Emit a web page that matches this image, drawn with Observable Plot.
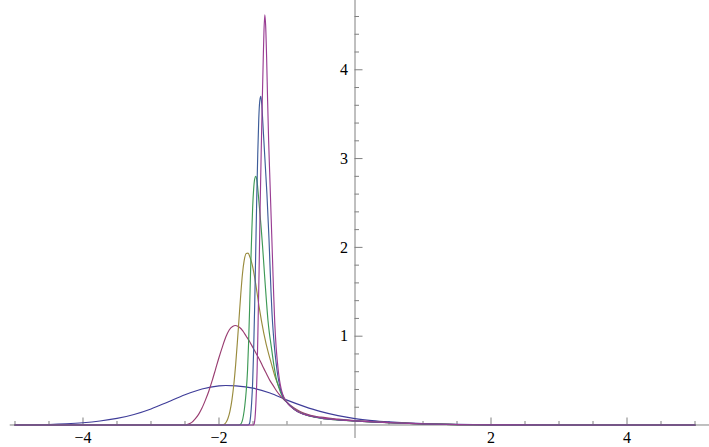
<!DOCTYPE html>
<html>
<head>
<meta charset="utf-8">
<script src="https://cdn.jsdelivr.net/npm/d3@7"></script>
<script src="https://cdn.jsdelivr.net/npm/@observablehq/plot@0.6"></script>
<style>
  html, body { margin: 0; padding: 0; background: #ffffff; }
  #chart svg { display: block; }
</style>
</head>
<body>
<div id="chart"></div>
<script>
// ---- data ----
const seriesNames = ["s1", "s2", "s3", "s4", "s5", "s6"];
const seriesColors = ["#3f3d99", "#993d71", "#998b3d", "#3d9955", "#3d5c99", "#993d93"];

const s1x = [-5.0, -4.75, -4.5, -4.25, -4.0, -3.75, -3.5, -3.25, -3.0, -2.75, -2.5, -2.25, -2.0, -1.9, -1.75, -1.5, -1.25, -1.0, -0.75, -0.5, -0.25, 0, 0.25, 0.5, 0.75, 1.0, 1.5, 2.0, 2.5, 3.0, 4.0, 5.0];
const s1y = [0.001, 0.003, 0.006, 0.013, 0.025, 0.045, 0.075, 0.118, 0.18, 0.26, 0.34, 0.405, 0.44, 0.445, 0.44, 0.415, 0.36, 0.28, 0.21, 0.15, 0.105, 0.072, 0.05, 0.035, 0.024, 0.016, 0.007, 0.003, 0.001, 0.0005, 0, 0];

const s2x = [-5.0, -2.5, -2.45, -2.4, -2.35, -2.3, -2.25, -2.2, -2.15, -2.1, -2.05, -2.0, -1.95, -1.9, -1.85, -1.8, -1.757, -1.7, -1.65, -1.6, -1.55, -1.5, -1.45, -1.4, -1.35, -1.3, -1.25, -1.2, -1.15, -1.1, -1.05, -1.0, -0.9, -0.8, -0.7, -0.6, -0.5, -0.25, 0, 0.5, 1.0, 1.5, 2.0, 3.0, 5.0];
const s2y = [0, 0, 0.01, 0.03, 0.07, 0.12, 0.19, 0.28, 0.38, 0.5, 0.63, 0.76, 0.88, 0.99, 1.07, 1.11, 1.12, 1.1, 1.06, 1.0, 0.94, 0.87, 0.8, 0.73, 0.65, 0.575, 0.5, 0.44, 0.38, 0.33, 0.29, 0.255, 0.195, 0.15, 0.12, 0.1, 0.088, 0.067, 0.05, 0.028, 0.013, 0.005, 0.0015, 0, 0];

const s3x = [-5.0, -1.96, -1.93, -1.9, -1.87, -1.84, -1.81, -1.78, -1.755, -1.73, -1.705, -1.68, -1.655, -1.63, -1.6, -1.573, -1.545, -1.51, -1.46, -1.41, -1.34, -1.27, -1.24, -1.17, -1.095, -1.04, -1.0, -0.95, -0.9, -0.8, -0.7, -0.5, -0.25, 0, 0.5, 1.0, 1.5, 2.0, 3.0, 5.0];
const s3y = [0, 0, 0.005, 0.025, 0.07, 0.15, 0.28, 0.47, 0.68, 0.93, 1.2, 1.47, 1.7, 1.85, 1.93, 1.935, 1.89, 1.8, 1.59, 1.33, 1.03, 0.8, 0.72, 0.53, 0.39, 0.3, 0.255, 0.215, 0.185, 0.14, 0.11, 0.078, 0.058, 0.046, 0.025, 0.012, 0.005, 0.0015, 0, 0];

const s4x = [-5.0, -1.71, -1.68, -1.66, -1.64, -1.62, -1.6, -1.58, -1.565, -1.55, -1.535, -1.52, -1.505, -1.49, -1.475, -1.459, -1.44, -1.42, -1.4, -1.38, -1.36, -1.34, -1.32, -1.3, -1.28, -1.26, -1.24, -1.22, -1.19, -1.16, -1.12, -1.08, -1.04, -1.0, -0.95, -0.9, -0.8, -0.7, -0.5, -0.25, 0, 0.5, 1.0, 1.5, 2.0, 3.0, 5.0];
const s4y = [0, 0, 0.01, 0.04, 0.11, 0.22, 0.38, 0.62, 0.92, 1.3, 1.75, 2.12, 2.45, 2.66, 2.77, 2.8, 2.74, 2.58, 2.4, 2.22, 2.02, 1.8, 1.58, 1.37, 1.18, 1.04, 0.93, 0.82, 0.66, 0.53, 0.42, 0.34, 0.29, 0.255, 0.215, 0.18, 0.135, 0.108, 0.077, 0.057, 0.045, 0.025, 0.012, 0.005, 0.0015, 0, 0];

const s5x = [-5.0, -1.57, -1.55, -1.535, -1.52, -1.505, -1.49, -1.475, -1.46, -1.445, -1.43, -1.415, -1.4, -1.385, -1.37, -1.355, -1.34, -1.325, -1.31, -1.295, -1.28, -1.265, -1.25, -1.235, -1.22, -1.2, -1.18, -1.16, -1.14, -1.12, -1.09, -1.06, -1.0, -0.95, -0.9, -0.8, -0.7, -0.5, -0.25, 0, 0.5, 1.0, 1.5, 2.0, 3.0, 5.0];
const s5y = [0, 0, 0.02, 0.1, 0.25, 0.48, 0.85, 1.35, 1.95, 2.55, 3.05, 3.45, 3.65, 3.7, 3.6, 3.4, 3.2, 3.0, 2.8, 2.6, 2.35, 2.1, 1.8, 1.5, 1.25, 1.02, 0.84, 0.7, 0.58, 0.49, 0.39, 0.32, 0.255, 0.215, 0.18, 0.135, 0.11, 0.078, 0.058, 0.046, 0.025, 0.012, 0.005, 0.0015, 0, 0];

const s6x = [-5.0, -1.5, -1.485, -1.47, -1.455, -1.44, -1.425, -1.41, -1.395, -1.38, -1.365, -1.35, -1.338, -1.326, -1.314, -1.3, -1.285, -1.27, -1.255, -1.24, -1.225, -1.21, -1.195, -1.18, -1.16, -1.14, -1.12, -1.1, -1.07, -1.04, -1.0, -0.95, -0.9, -0.8, -0.7, -0.5, -0.25, 0, 0.5, 1.0, 1.5, 2.0, 3.0, 5.0];
const s6y = [0, 0, 0.01, 0.08, 0.28, 0.6, 1.15, 1.75, 2.45, 3.05, 3.6, 4.1, 4.45, 4.62, 4.5, 4.15, 3.65, 3.2, 2.85, 2.5, 2.15, 1.8, 1.45, 1.15, 0.88, 0.7, 0.56, 0.46, 0.36, 0.3, 0.255, 0.21, 0.18, 0.135, 0.11, 0.08, 0.06, 0.047, 0.026, 0.012, 0.005, 0.0015, 0, 0];

const xMajorTicks = [-4, -2, 2, 4];
const xMajorLabels = ["\u22124", "\u22122", "2", "4"];
const xMinorTicks = [-5, -4.5, -3.5, -3, -2.5, -1.5, -1, -0.5, 0.5, 1, 1.5, 2.5, 3, 3.5, 4.5, 5];
const yMajorTicks = [1, 2, 3, 4];
const yMajorLabels = ["1", "2", "3", "4"];
const yMinorTicks = [0.2, 0.4, 0.6, 0.8, 1.2, 1.4, 1.6, 1.8, 2.2, 2.4, 2.6, 2.8, 3.2, 3.4, 3.6, 3.8, 4.2, 4.4, 4.6];

// ---- build table ----
const xs = [s1x, s2x, s3x, s4x, s5x, s6x];
const ys = [s1y, s2y, s3y, s4y, s5y, s6y];
const rows = [];
seriesNames.forEach((name, i) => {
  xs[i].forEach((xv, j) => rows.push({series: name, x: xv, y: ys[i][j]}));
});

const W = 709, H = 447;
const xDomain = [-5.213, 5.213];
const yDomain = [-0.2534, 4.780];
const pxPerY = H / (yDomain[1] - yDomain[0]);
const pxPerX = W / (xDomain[1] - xDomain[0]);
const axisColor = "#808080";
const font = "Liberation Serif";

const chart = Plot.plot({
  width: W,
  height: H,
  margin: 0,
  style: {background: "#ffffff", fontFamily: font},
  x: {domain: xDomain, axis: null},
  y: {domain: yDomain, axis: null},
  color: {domain: seriesNames, range: seriesColors},
  marks: [
    Plot.ruleY([0], {x1: -5.07, x2: xDomain[1], stroke: axisColor, strokeWidth: 1}),
    Plot.ruleX([0], {y1: -0.152, y2: yDomain[1], stroke: axisColor, strokeWidth: 1}),
    Plot.ruleX(xMajorTicks, {y1: 0, y2: 7 / pxPerY, stroke: axisColor}),
    Plot.ruleX(xMinorTicks, {y1: 0, y2: 3.5 / pxPerY, stroke: axisColor}),
    Plot.ruleY(yMajorTicks, {x1: 0, x2: 8 / pxPerX, stroke: axisColor}),
    Plot.ruleY(yMinorTicks, {x1: 0, x2: 4.5 / pxPerX, stroke: axisColor}),
    Plot.line(rows, {x: "x", y: "y", z: "series", stroke: "series", strokeWidth: 1.15, curve: "monotone-x"}),
    Plot.text(xMajorTicks, {x: d => d, y: 0, text: (d, i) => xMajorLabels[i], dy: 13, fontSize: 16, fontFamily: font, fill: "#000"}),
    Plot.text(yMajorTicks, {x: 0, y: d => d, text: (d, i) => yMajorLabels[i], dx: -7, textAnchor: "end", fontSize: 16, fontFamily: font, fill: "#000"})
  ]
});
document.getElementById("chart").appendChild(chart);
</script>
</body>
</html>
